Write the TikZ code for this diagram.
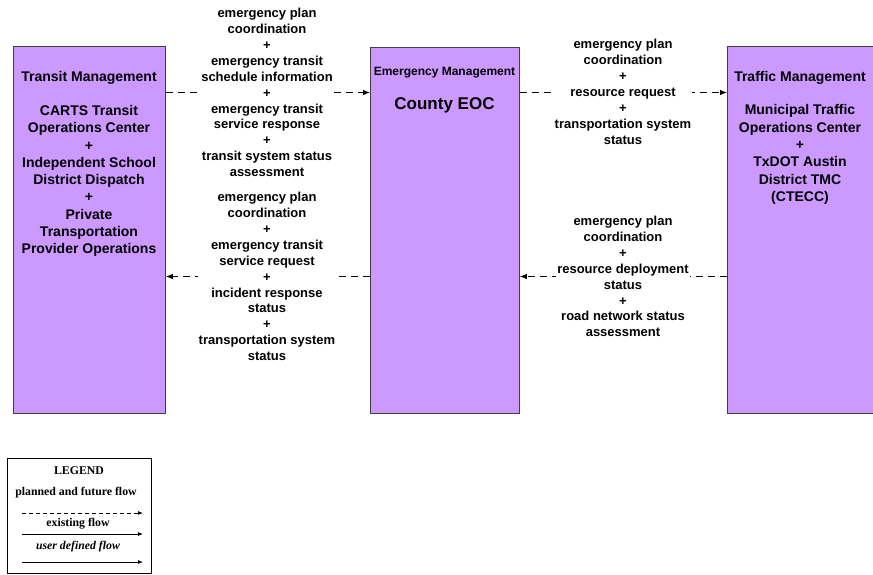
\documentclass[tikz,border=0pt]{standalone}
\usepackage{fontspec}
\setmainfont{Liberation Sans}
\newfontfamily\legendfont{Liberation Serif}
\usetikzlibrary{arrows.meta}
\definecolor{boxfill}{HTML}{CC99FF}
\definecolor{boxline}{HTML}{404040}
\tikzset{
  entity/.style={draw=boxline, line width=0.9pt, fill=boxfill, anchor=north west, inner sep=0pt},
  boxtitle/.style={font=\bfseries\fontsize{14}{17.3}\selectfont, align=center, inner sep=0pt},
  boxbody/.style={font=\bfseries\fontsize{14}{17.3}\selectfont, align=center, inner sep=0pt},
  flowlabel/.style={font=\bfseries\fontsize{13}{15.9}\selectfont, align=center, fill=white, inner sep=1pt},
  planned/.style={line width=0.8pt, dash pattern=on 7pt off 5pt, -{Latex[length=7pt,width=5.5pt]}},
  existing/.style={line width=0.8pt, -{Latex[length=7pt,width=5.5pt]}},
  legendtext/.style={font=\legendfont\bfseries\fontsize{11.8}{13}\selectfont, inner sep=0pt},
}
\begin{document}
\begin{tikzpicture}[x=1pt,y=-1pt]
\useasboundingbox (0,0) rectangle (873,574);
% entity boxes
\node[entity, minimum width=152pt, minimum height=367pt] (L) at (13,46) {};
\node[entity, minimum width=149pt, minimum height=366pt] (M) at (370,47) {};
\node[entity, minimum width=146pt, minimum height=367pt] (R) at (727,46) {};
% box texts
\node[boxtitle] (Lt) at (89,78) {Transit Management};
\node[boxbody] (Lb) at (89,181) {CARTS Transit\\Operations Center\\+\\Independent School\\District Dispatch\\+\\Private\\Transportation\\Provider Operations};
\node[font=\bfseries\fontsize{12}{14}\selectfont, inner sep=0pt] (Mt) at (444.5,73) {Emergency Management};
\node[font=\bfseries\fontsize{17}{20}\selectfont, inner sep=0pt] (Mb) at (444.5,105) {County EOC};
\node[boxtitle] (Rt) at (800,78) {Traffic Management};
\node[boxbody] (Rb) at (800,154.5) {Municipal Traffic\\Operations Center\\+\\TxDOT Austin\\District TMC\\(CTECC)};
% flow rows
\coordinate (y1) at (0,92.5);
\coordinate (y2) at (0,276.5);
% flows
\draw[planned] (L.east |- y1) -- (M.west |- y1);
\node[flowlabel] (f1) at (267,92.5) {emergency plan\\coordination\\+\\emergency transit\\schedule information\\+\\emergency transit\\service response\\+\\transit system status\\assessment};
\draw[planned] (M.west |- y2) -- (L.east |- y2);
\node[flowlabel] (f2) at (267,276.5) {emergency plan\\coordination\\+\\emergency transit\\service request\\+\\incident response\\status\\+\\transportation system\\status};
\draw[planned] (M.east |- y1) -- (R.west |- y1);
\node[flowlabel] (f3) at (623,92) {emergency plan\\coordination\\+\\resource request\\+\\transportation system\\status};
\draw[planned] (R.west |- y2) -- (M.east |- y2);
\node[flowlabel] (f4) at (623,276.5) {emergency plan\\coordination\\+\\resource deployment\\status\\+\\road network status\\assessment};
% legend
\node[draw=black, line width=0.9pt, anchor=north west, minimum width=144pt, minimum height=115pt, inner sep=0pt] (leg) at (7,457.5) {};
\node[legendtext] (legt) at (79,471) {LEGEND};
\node[legendtext] (lp) at (76,493) {planned and future flow};
\coordinate (pa) at (22,513);
\coordinate (pb) at (143,513);
\draw[line width=0.8pt, dash pattern=on 4pt off 3pt, -{Latex[length=5pt,width=4pt]}] (pa) -- (pb);
\node[legendtext] (le) at (78,524) {existing flow};
\coordinate (ea) at (22,534);
\coordinate (eb) at (143,534);
\draw[line width=0.8pt, -{Latex[length=5pt,width=4pt]}] (ea) -- (eb);
\node[legendtext, font=\legendfont\bfseries\itshape\fontsize{11.8}{13}\selectfont] (lu) at (78,547) {user defined flow};
\coordinate (ua) at (22,562);
\coordinate (ub) at (143,562);
\draw[line width=0.8pt, -{Latex[length=5pt,width=4pt]}] (ua) -- (ub);
\end{tikzpicture}
\end{document}
